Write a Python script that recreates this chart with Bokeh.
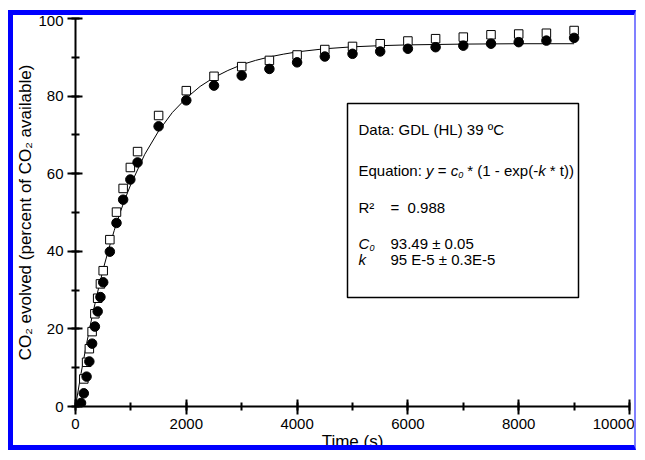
import math
from bokeh.plotting import figure
from bokeh.models import Range1d, SingleIntervalTicker, Label, BoxAnnotation
from bokeh.embed import file_html
from bokeh.resources import INLINE

# ---------------- data ----------------
time_open = [150, 200, 250, 300, 350, 400, 450, 500, 620, 740, 860, 990, 1120, 1500,
             2000, 2500, 3000, 3500, 4000, 4500, 5000, 5500, 6000, 6500, 7000, 7500,
             8000, 8500, 9000]
co2_open = [7.1, 11.4, 14.9, 19.3, 23.9, 27.9, 31.6, 35.0, 43.0, 50.1, 56.2, 61.6, 65.7,
            75.0, 81.4, 85.1, 87.6, 89.2, 90.6, 92.0, 92.8, 93.5, 94.2, 94.8, 95.2, 95.8,
            96.0, 96.2, 96.9]

time_filled = [100, 150, 200, 250, 300, 350, 400, 450, 500, 620, 740, 860, 990, 1120, 1500,
               2000, 2500, 3000, 3500, 4000, 4500, 5000, 5500, 6000, 6500, 7000, 7500,
               8000, 8500, 9000]
co2_filled = [0.9, 3.4, 7.7, 11.6, 16.2, 20.6, 24.5, 28.2, 32.0, 39.9, 47.3, 53.3, 58.5, 62.9,
              72.2, 78.9, 82.7, 85.3, 87.0, 88.7, 90.2, 90.9, 91.5, 92.2, 92.6, 93.0, 93.5,
              93.9, 94.3, 95.0]

fit_time = [0, 100, 200, 300, 400, 500, 600, 700, 800, 900, 1000, 1250, 1500, 1750, 2000,
            2250, 2500, 2750, 3000, 3250, 3500, 3750, 4000, 4500, 5000, 5500, 6000, 7000,
            8000, 9000]
fit_co2 = [0, 8.5, 16.2, 23.2, 29.5, 35.4, 40.6, 45.4, 49.8, 53.7, 57.3, 65.0, 71.0, 75.8,
           79.5, 82.5, 84.8, 86.6, 88.1, 89.2, 90.1, 90.8, 91.4, 92.2, 92.7, 93.0, 93.2,
           93.4, 93.5, 93.5]

NB = "\u00a0"
x_label = "Time (s)"
y_label = "CO\u2082 evolved (percent of CO\u2082 available)"
info_title = "Data: GDL (HL) 39 \u00baC"
r2_label, r2_value = "R\u00b2", "=" + NB + NB + "0.988"
c0_label, c0_sub, c0_value = "C", "0", "93.49 \u00b1 0.05"
k_label, k_value = "k", "95 E-5 \u00b1 0.3E-5"
equation = [("Equation: ", "normal", 0), ("y", "italic", 0), (" = ", "normal", 0),
            ("c", "italic", 0), ("0", "italic", 1), (" * (1 - exp(-", "normal", 0),
            ("k", "italic", 0), (" * t))", "normal", 0)]

# ---------------- layout helpers ----------------
FONT = "Liberation Sans"
X0, XS = 75.0, 554.0 / 10000.0   # page px of x=0, px per unit
Y0, YS = 406.0, 388.0 / 100.0    # page px of y=0, px per unit


def dx(px):
    return (px - X0) / XS


def dy(py):
    return (Y0 - py) / YS


AW = {' ': .278, NB: .278, 'E': .667, 'q': .556, 'u': .556, 'a': .556, 't': .278,
      'i': .222, 'o': .556, 'n': .556, ':': .278, 'y': .5, '=': .584, 'c': .5, '*': .389,
      '(': .333, ')': .333, '1': .556, '-': .333, 'e': .556, 'x': .5, 'p': .556, 'k': .5,
      '0': .556}


def tw(s, size):
    return sum(AW.get(ch, .556) for ch in s) * size


# canvas 628 x 440 inside a blue frame, placed at (8, 10)
p = figure(width=628, height=440, x_range=Range1d(0, 10000), y_range=Range1d(0, 100),
           output_backend="svg", toolbar_location=None,
           min_border_left=62, min_border_right=12, min_border_top=3, min_border_bottom=49,
           background_fill_color="white", border_fill_color="white")
p.styles = {"border-top": "5px solid #0000ff", "border-left": "5px solid #0000ff",
            "border-bottom": "5px solid #0000ff", "border-right": "2px solid #8080ff",
            "margin-left": "8px", "margin-top": "10px"}
p.outline_line_color = None
p.grid.visible = False

p.xaxis.ticker = SingleIntervalTicker(interval=2000, num_minor_ticks=2)
p.yaxis.ticker = SingleIntervalTicker(interval=20, num_minor_ticks=2)
for ax in (p.xaxis[0], p.yaxis[0]):
    ax.axis_line_color = "black"
    ax.axis_line_width = 2
    ax.major_tick_line_color = "black"
    ax.major_tick_line_width = 2
    ax.major_tick_in = 7
    ax.major_tick_out = 8
    ax.minor_tick_line_color = "black"
    ax.minor_tick_line_width = 2
    ax.minor_tick_in = 4
    ax.minor_tick_out = 4
    ax.major_label_text_font = FONT
    ax.major_label_text_font_size = "15px"
    ax.major_label_text_color = "black"
    ax.major_label_standoff = 4
    ax.axis_label_text_font = FONT
    ax.axis_label_text_font_size = "17px"
    ax.axis_label_text_font_style = "normal"
    ax.axis_label_text_color = "black"

p.xaxis.axis_label = x_label
p.xaxis.axis_label_standoff = 0
p.yaxis.axis_label = y_label
p.yaxis.axis_label_standoff = 0

p.line(fit_time, fit_co2, line_color="black", line_width=1)
p.scatter(time_open, co2_open, marker="square", size=8.5, fill_color="white",
          line_color="black", line_width=1)
p.scatter(time_filled, co2_filled, marker="circle", size=9.5, fill_color="black",
          line_color="black")

# info box
p.add_layout(BoxAnnotation(left=dx(347), right=dx(578), top=dy(103), bottom=dy(297),
                           fill_color=None, line_color="black", line_alpha=1.0,
                           line_width=1.5))

TS = 15


def put(px, py, text, style="normal", size=TS):
    p.add_layout(Label(x=dx(px), y=dy(py), text=text.replace(" ", NB), text_font=FONT,
                       text_font_size=f"{size}px", text_font_style=style,
                       text_align="left", text_baseline="alphabetic", text_color="black"))


put(358, 129, info_title)
cx = 358.0
for seg, style, sub in equation:
    if sub:
        put(cx, 174, seg, style, 9)
        cx += tw(seg, 9)
    else:
        put(cx, 170, seg, style)
        cx += tw(seg, TS)
put(358, 207, r2_label)
put(390, 207, r2_value)
put(358, 243, c0_label, "italic")
put(369, 247, c0_sub, "italic", 9)
put(390, 243, c0_value)
put(358, 259, k_label, "italic")
put(390, 259, k_value)

open("out.html", "w").write(file_html(p, INLINE))
